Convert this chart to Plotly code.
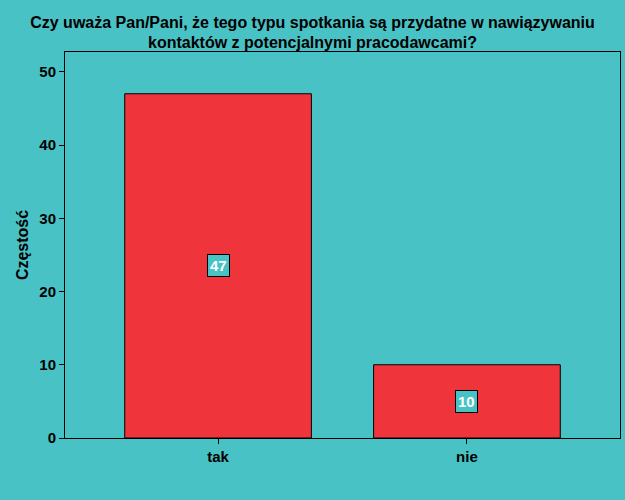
import plotly.graph_objects as go

categories = ['tak', 'nie']
counts = [47, 10]

teal = 'rgb(73,194,197)'
red = 'rgb(240,52,60)'
font = 'Liberation Sans, Arial, sans-serif'

fig = go.Figure()

fig.add_trace(go.Bar(
    x=categories,
    y=counts,
    width=0.75,
    marker={'color': red, 'line': {'color': 'black', 'width': 1}},
    hoverinfo='x+y'))

# etykiety wartości w środku słupków
for cat, val in zip(categories, counts):
    fig.add_annotation(
        x=cat, y=val / 2, text='<b>%d</b>' % val,
        showarrow=False,
        font={'family': font, 'size': 15, 'color': 'white'},
        bgcolor=teal, bordercolor='black', borderwidth=1, borderpad=2)

tickfont = {'family': font, 'size': 15, 'color': 'black', 'weight': 'bold'}

fig.update_layout(
    width=625, height=500,
    paper_bgcolor=teal,
    plot_bgcolor=teal,
    showlegend=False,
    margin={'l': 65, 'r': 5, 't': 52, 'b': 62},
    title={
        'text': '<b>Czy uważa Pan/Pani, że tego typu spotkania są przydatne w nawiązywaniu<br>kontaktów z potencjalnymi pracodawcami?</b>',
        'x': 0.5, 'xanchor': 'center', 'y': 0.945, 'yanchor': 'middle',
        'font': {'family': font, 'size': 16, 'color': 'black'}},
    font={'family': font, 'color': 'black'},
    xaxis={
        'range': [-0.615, 1.615],
        'showline': True, 'linecolor': 'black', 'linewidth': 1, 'mirror': True,
        'showgrid': False,
        'ticks': 'outside', 'ticklen': 5, 'tickcolor': 'black',
        'tickfont': tickfont},
    yaxis={
        'range': [0, 52.7],
        'tickvals': [0, 10, 20, 30, 40, 50],
        'showline': True, 'linecolor': 'black', 'linewidth': 1, 'mirror': True,
        'showgrid': False, 'zeroline': False,
        'ticks': 'outside', 'ticklen': 5, 'tickcolor': 'black',
        'tickfont': tickfont,
        'title': {'text': '<b>Częstość</b>', 'standoff': 6,
                  'font': {'family': font, 'size': 16, 'color': 'black'}}},
)

fig.write_html('out.html', config={'displayModeBar': False},
               post_script="document.body.style.margin='0';document.body.style.overflow='hidden';")
